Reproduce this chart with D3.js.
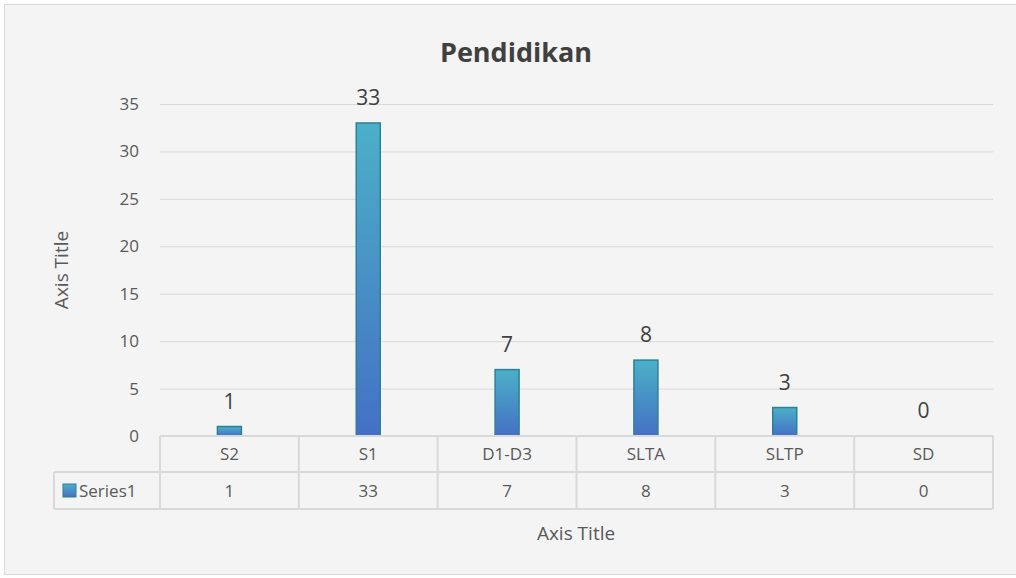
<!DOCTYPE html>
<html>
<head>
<meta charset="utf-8">
<script src="https://cdn.jsdelivr.net/npm/d3@7"></script>
<style>
body{margin:0;background:#fff;}
text{font-family:"Open Sans",sans-serif;fill:#595959;}
</style>
</head>
<body>
<svg id="chart" width="1016" height="578"></svg>
<script>
const categories = ["S2","S1","D1-D3","SLTA","SLTP","SD"];
const values = [1,33,7,8,3,0];
const yTicks = [0,5,10,15,20,25,30,35];
const seriesName = "Series1";

const svg = d3.select("#chart");
svg.append("rect").attr("x",4.5).attr("y",4.5).attr("width",1016).attr("height",570)
  .attr("fill","#f4f4f4").attr("stroke","#d9d9d9");

const defs = svg.append("defs");
const grad = defs.append("linearGradient").attr("id","barGrad")
  .attr("x1",0).attr("y1",0).attr("x2",0).attr("y2",1);
grad.append("stop").attr("offset","0%").attr("stop-color","#4bb0c8");
grad.append("stop").attr("offset","100%").attr("stop-color","#4470c4");

const plotL=160, plotR=993, plotT=104, base=436;
const x = d3.scaleBand().domain(categories).range([plotL,plotR]);
const y = d3.scaleLinear().domain([0,35]).range([base,plotT]);

// gridlines
svg.append("g").selectAll("line").data(yTicks.slice(1)).join("line")
  .attr("x1",plotL).attr("x2",plotR)
  .attr("y1",d=>y(d)+0.5).attr("y2",d=>y(d)+0.5)
  .attr("stroke","#d9d9d9").attr("stroke-width",1);

// y labels
svg.append("g").selectAll("text").data(yTicks).join("text")
  .attr("x",139).attr("y",d=>y(d)+6)
  .attr("text-anchor","end").attr("font-size",17).text(d=>d);

// bars
const bw=24;
svg.append("g").selectAll("rect").data(values).join("rect")
  .attr("x",(d,i)=>x(categories[i])+x.bandwidth()/2-bw/2)
  .attr("y",d=>y(d))
  .attr("width",bw).attr("height",d=>base-y(d))
  .attr("fill","url(#barGrad)")
  .attr("stroke",d=>d>0?"#2f7f95":"none").attr("stroke-width",1.5);

// data labels
svg.append("g").selectAll("text").data(values).join("text")
  .attr("x",(d,i)=>x(categories[i])+x.bandwidth()/2)
  .attr("y",d=>y(d)-18)
  .attr("text-anchor","middle").attr("font-size",21)
  .style("fill","#404040").text(d=>d);

// data table
const row1=436, row2=472, row3=509;
const tg = svg.append("g").attr("stroke","#d9d9d9").attr("stroke-width",2).attr("fill","none");
tg.append("line").attr("x1",plotL).attr("x2",plotR).attr("y1",row1).attr("y2",row1);
tg.append("line").attr("x1",54).attr("x2",plotR).attr("y1",row2).attr("y2",row2);
tg.append("line").attr("x1",54).attr("x2",plotR).attr("y1",row3).attr("y2",row3);
tg.append("line").attr("x1",54).attr("x2",54).attr("y1",row2).attr("y2",row3);
tg.selectAll(".v").data(categories.concat(["end"])).join("line")
  .attr("x1",(d,i)=>i<categories.length?x(d):plotR)
  .attr("x2",(d,i)=>i<categories.length?x(d):plotR)
  .attr("y1",row1).attr("y2",row3);

svg.append("g").selectAll("text").data(categories).join("text")
  .attr("x",d=>x(d)+x.bandwidth()/2).attr("y",row1+24)
  .attr("text-anchor","middle").attr("font-size",17).text(d=>d);
svg.append("g").selectAll("text").data(values).join("text")
  .attr("x",(d,i)=>x(categories[i])+x.bandwidth()/2).attr("y",row2+25)
  .attr("text-anchor","middle").attr("font-size",17).text(d=>d);

// legend key
svg.append("rect").attr("x",63).attr("y",484).attr("width",13).attr("height",13)
  .attr("fill","url(#barGrad)").attr("stroke","#2f7f95").attr("stroke-width",1);
svg.append("text").attr("x",79).attr("y",497).attr("font-size",17).text(seriesName);

// titles
svg.append("text").attr("x",516).attr("y",62).attr("text-anchor","middle")
  .attr("font-size",27).attr("font-weight","bold").style("fill","#404040").text("Pendidikan");
svg.append("text").attr("x",576).attr("y",540).attr("text-anchor","middle")
  .attr("font-size",19).text("Axis Title");
svg.append("text").attr("transform","translate(68,270) rotate(-90)")
  .attr("text-anchor","middle").attr("font-size",19).text("Axis Title");
</script>
</body>
</html>
